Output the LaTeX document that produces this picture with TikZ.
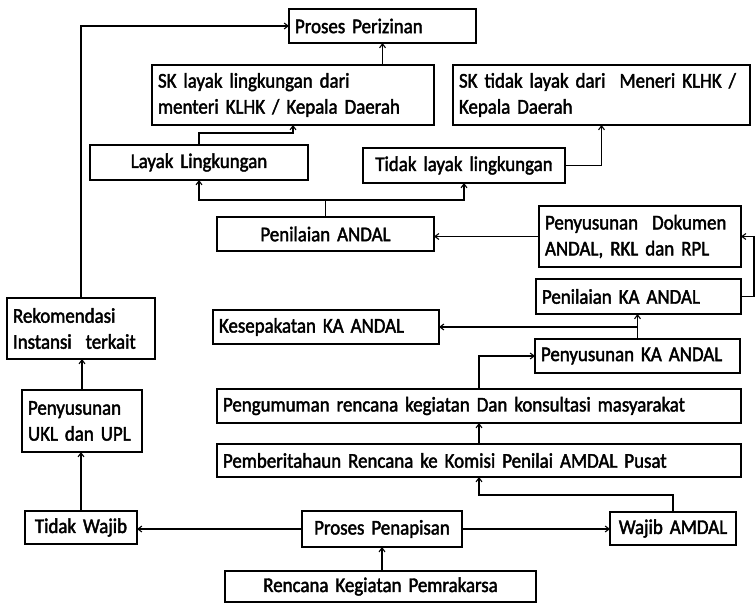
\documentclass[tikz,border=0pt]{standalone}
\usepackage{fontspec}
\setmainfont{Carlito}[FakeStretch=0.9, FakeBold=2, WordSpace=0.7]
\usetikzlibrary{arrows.meta}
\hbadness=10000 \hfuzz=100pt
\begin{document}
\begin{tikzpicture}[x=1pt,y=-1pt,
  every node/.style={font=\fontsize{21}{26}\selectfont},
  boxbase/.style={draw, line width=1.4pt, inner sep=0pt, outer sep=0pt},
  conn/.style={line width=1.4pt},
  arr/.style={conn, -{Straight Barb[length=4pt,width=6pt,line width=1.1pt]}},
]
\useasboundingbox (0,0) rectangle (755,604);
% boxes: corners given as (left,top) and (right,bottom); each text line kept unbroken
\newcommand{\mkbox}[7]{% name, x1, y1, x2, y2, align, text
  \pgfmathsetmacro{\bw}{#4-#2}\pgfmathsetmacro{\bh}{#5-#3}%
  \pgfmathsetmacro{\tw}{#4-#2-12}%
  \node[boxbase, minimum width=\bw pt, minimum height=\bh pt, text width=\tw pt, align=#6]
    (#1) at ({(#2+#4)/2},{(#3+#5)/2}) {#7};}
\newcommand{\tl}[1]{\mbox{#1}}
\mkbox{perizinan}{289}{9}{476}{43}{left}{\tl{Proses Perizinan}}
\mkbox{sklayak}{152}{65}{434}{125}{left}{\tl{SK layak lingkungan dari}\\\tl{menteri KLHK / Kepala Daerah}}
\mkbox{sktidak}{453}{65}{750}{125}{left}{\tl{SK tidak layak dari\ \ Meneri KLHK /}\\\tl{Kepala Daerah}}
\mkbox{layak}{90}{145}{308}{180}{center}{\tl{Layak Lingkungan}}
\mkbox{tidaklayak}{363}{148}{565}{183}{center}{\tl{Tidak layak lingkungan}}
\mkbox{penilaianandal}{217}{217}{434}{251}{center}{\tl{Penilaian ANDAL}}
\mkbox{dokumen}{539}{206}{741}{267}{left}{\tl{Penyusunan\ \ Dokumen}\\\tl{ANDAL, RKL dan RPL}}
\mkbox{penilaianka}{536}{279}{741}{314}{left}{\tl{Penilaian KA ANDAL}}
\mkbox{kesepakatan}{213}{310}{439}{344}{left}{\tl{Kesepakatan KA ANDAL}}
\mkbox{penyusunanka}{535}{339}{740}{373}{left}{\tl{Penyusunan KA ANDAL}}
\mkbox{pengumuman}{217}{389}{741}{423}{left}{\tl{Pengumuman rencana kegiatan Dan konsultasi masyarakat}}
\mkbox{pemberitahuan}{217}{444}{741}{477}{left}{\tl{Pemberitahaun Rencana ke Komisi Penilai AMDAL Pusat}}
\mkbox{wajib}{610}{512}{736}{545}{center}{\tl{Wajib AMDAL}}
\mkbox{penapisan}{302}{511}{462}{547}{center}{\tl{Proses Penapisan}}
\mkbox{rencana}{225}{571}{536}{602}{center}{\tl{Rencana Kegiatan Pemrakarsa}}
\mkbox{tidakwajib}{25}{511}{137}{544}{center}{\tl{Tidak Wajib}}
\mkbox{ukl}{22}{390}{142}{452}{left}{\tl{Penyusunan}\\\tl{UKL dan UPL}}
\mkbox{rekom}{7}{298}{155}{359}{left}{\tl{Rekomendasi}\\\tl{Instansi\ \ terkait}}

% connectors
\coordinate (rightedge) at (754,0);
\draw[arr] (penapisan.south |- rencana.north) -- (penapisan.south);
\draw[arr] (penapisan.east) -- (wajib.west |- penapisan.east);
\draw[arr] (penapisan.west) -- (tidakwajib.east |- penapisan.west);
\draw[arr] (tidakwajib.north) -- (tidakwajib.north |- ukl.south);
\draw[arr] (ukl.north) -- (ukl.north |- rekom.south);
\draw[arr] (rekom.north) |- (perizinan.west);
\draw[arr] (wajib.north) -- (wajib.north |- 0,495) -| (pemberitahuan.south);
\draw[arr] (pemberitahuan.north) -- (pengumuman.south);
\draw[arr] (pengumuman.north) |- (penyusunanka.west);
\draw[arr] (penyusunanka.north) -- (penyusunanka.north |- penilaianka.south);
\draw[arr] (penyusunanka.north |- kesepakatan.east) -- (kesepakatan.east);
\draw[arr] (penilaianka.east) -- (penilaianka.east -| rightedge) |- (dokumen.east);
\draw[arr] (dokumen.west) -- (penilaianandal.east |- dokumen.west);
\coordinate (split) at (penilaianandal.north |- 0,200);
\draw[conn] (penilaianandal.north) -- (split);
\draw[arr] (split) -| (layak.south);
\draw[arr] (split) -| (tidaklayak.south);
\draw[arr] (layak.north) -- (layak.north |- 0,133) -| (sklayak.south);
\draw[arr] (tidaklayak.east) -| (sktidak.south);
\draw[arr] (sklayak.north -| perizinan.south) -- (perizinan.south);
\end{tikzpicture}
\end{document}
